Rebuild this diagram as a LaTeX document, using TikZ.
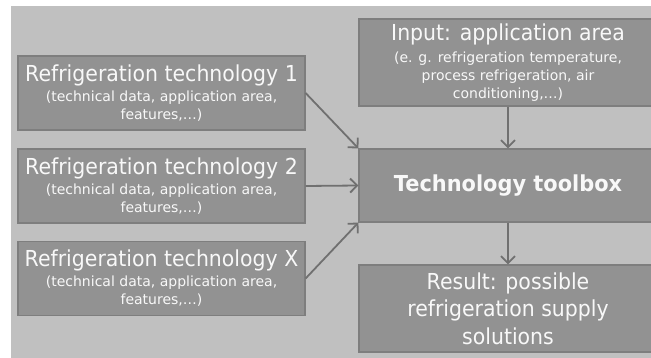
\documentclass[tikz,border=0pt]{standalone}
\usepackage{fontspec}
\setmainfont{DejaVu Sans}[FakeStretch=0.93, BoldFeatures={FakeStretch=0.95}]
\newfontfamily\detailfont{DejaVu Sans}
\usetikzlibrary{arrows.meta}

\definecolor{panelgray}{RGB}{192,192,192}
\definecolor{boxfill}{RGB}{146,146,146}
\definecolor{boxline}{RGB}{126,126,126}
\definecolor{arrowgray}{RGB}{112,112,112}
\definecolor{textwhite}{RGB}{248,248,248}

% large first line inside a box
\newcommand\headline[1]{{\rmfamily\fontsize{22}{26}\selectfont #1}}

\tikzset{
  card/.style={draw=boxline, line width=1.2pt, fill=boxfill, text=textwhite,
    align=center, inner sep=0pt, font=\detailfont\fontsize{14}{18}\selectfont},
  techcard/.style={card, minimum width=287pt, minimum height=74pt},
  sidecard/.style={card, minimum width=298pt},
  flow/.style={draw=arrowgray, line width=1.8pt,
    -{Straight Barb[length=7pt,width=14pt,line width=1.8pt]}},
}

\begin{document}
\begin{tikzpicture}[x=1pt,y=-1pt]
  \useasboundingbox (0,0) rectangle (651,358);
  \clip (0,0) rectangle (651,358);
  % grey panel behind the diagram
  \fill[panelgray] (11,6) rectangle (660,365);

  % technologies on the left
  \node[techcard] (tech1) at (161.5,93)
    {\headline{Refrigeration technology 1}\\[2pt](technical data, application area,\\features,…)};
  \node[techcard] (tech2) at (161.5,186)
    {\headline{Refrigeration technology 2}\\[2pt](technical data, application area,\\features,…)};
  \node[techcard] (techx) at (161.5,278.5)
    {\headline{Refrigeration technology X}\\[2pt](technical data, application area,\\features,…)};

  % input, toolbox and result on the right
  \node[sidecard, minimum height=87pt] (input) at (508,62.5)
    {\headline{Input: application area}\\[3.5pt](e. g. refrigeration temperature,\\process refrigeration, air\\conditioning,…)};
  \node[sidecard, minimum height=73pt, font=\rmfamily\fontsize{22}{26}\bfseries\selectfont] (toolbox) at (508,185.5)
    {Technology toolbox};
  \node[sidecard, minimum height=87pt, font=\rmfamily\fontsize{22}{27.5}\selectfont] (result) at (508,308.5)
    {Result: possible\\refrigeration supply\\solutions};

  % connectors
  \draw[flow] (tech1.east) -- (toolbox.north west);
  \draw[flow] (tech2.east) -- (toolbox.west);
  \draw[flow] (techx.east) -- (toolbox.south west);
  \draw[flow] (input.south) -- (toolbox.north);
  \draw[flow] (toolbox.south) -- (result.north);
\end{tikzpicture}
\end{document}
